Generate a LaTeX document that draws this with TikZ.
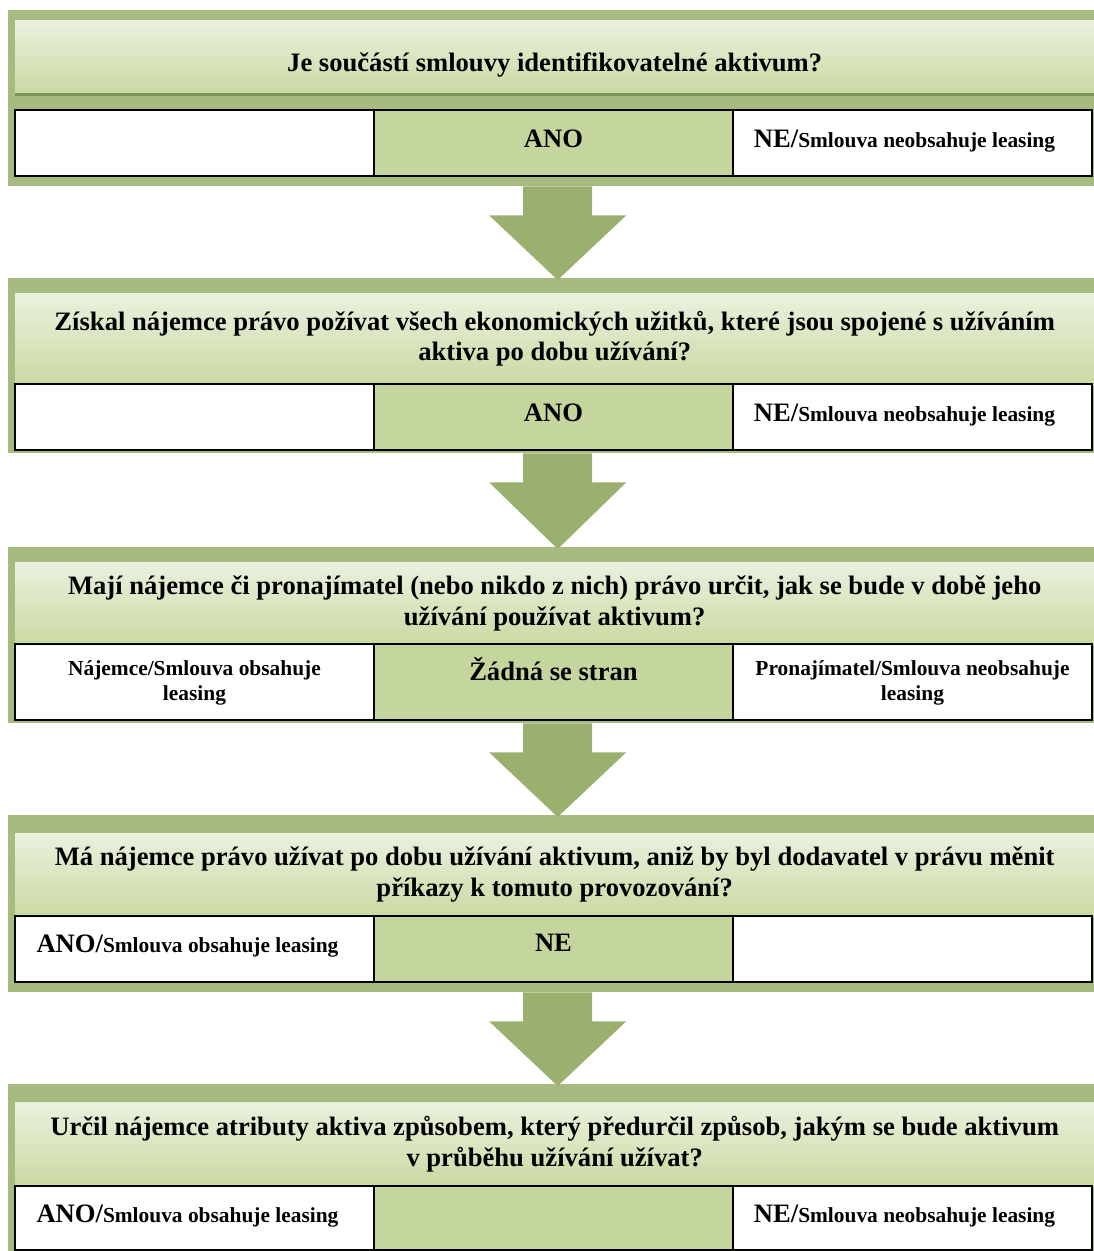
\documentclass[tikz,border=0pt]{standalone}
\usepackage{fontspec}
\setmainfont{Liberation Serif}
\usetikzlibrary{positioning,calc}
\definecolor{bandgreen}{RGB}{167,186,128}
\definecolor{arrowgreen}{RGB}{155,176,111}
\definecolor{midgreen}{RGB}{196,214,158}
\definecolor{panelhi}{RGB}{234,241,222}
\definecolor{panello}{RGB}{202,218,163}
\definecolor{panelline}{RGB}{126,148,96}

\begin{document}
\begin{tikzpicture}[x=1pt,y=-1pt,
  band/.style={fill=bandgreen,minimum width=1086pt,anchor=north west,inner sep=0pt},
  panel/.style={top color=panelhi,bottom color=panello,minimum width=1079pt,anchor=north west,
    inner sep=0pt,align=center,font=\bfseries\fontsize{26.6}{30.5}\selectfont},
  cell/.style={draw=black,line width=1.6pt,fill=white,minimum width=359pt,minimum height=66pt,
    inner sep=0pt,outer sep=0pt},
  midcell/.style={cell,fill=midgreen},
  big/.style={font=\bfseries\fontsize{26.6}{30.5}\selectfont,anchor=base},
  small/.style={font=\bfseries\fontsize{21.4}{25}\selectfont,align=center}]
\useasboundingbox (0,0) rectangle (1094,1251);

% block 1
\node[band,minimum height=176pt] (b1) at (8,10) {};
\node[panel,minimum height=73pt] (q1) at (15,20) {\raisebox{-15pt}[0pt][0pt]{Je součástí smlouvy identifikovatelné aktivum?}};
\draw[panelline,line width=3pt] ([yshift=-1.5pt]q1.south west) -- ([yshift=-1.5pt]q1.south east);
\node[cell,anchor=north west] (c1a) at (15,110) {};
\node[midcell,right=0pt of c1a] (c1b) {};
\node[cell,right=0pt of c1b] (c1c) {};
\node[big] (t1b) at ([yshift=-37pt]c1b.north) {ANO};
\node[big] (t1c) at ([xshift=-8pt,yshift=-37pt]c1c.north) {NE/{\fontsize{21.4}{25}\selectfont Smlouva neobsahuje leasing}};

% block 2
\node[band,minimum height=175pt] (b2) at (8,278) {};
\node[panel,minimum height=91pt] (q2) at (15,293) {Získal nájemce právo požívat všech ekonomických užitků, které jsou spojené s užíváním\\aktiva po dobu užívání?};
\node[cell,anchor=north west] (c2a) at (15,384) {};
\node[midcell,right=0pt of c2a] (c2b) {};
\node[cell,right=0pt of c2b] (c2c) {};
\node[big] (t2b) at ([yshift=-37pt]c2b.north) {ANO};
\node[big] (t2c) at ([xshift=-8pt,yshift=-37pt]c2c.north) {NE/{\fontsize{21.4}{25}\selectfont Smlouva neobsahuje leasing}};

% block 3
\node[band,minimum height=176pt] (b3) at (8,547) {};
\node[panel,minimum height=82pt] (q3) at (15,562) {Mají nájemce či pronajímatel (nebo nikdo z nich) právo určit, jak se bude v době jeho\\užívání používat aktivum?};
\node[cell,minimum height=76pt,anchor=north west] (c3a) at (15,644) {};
\node[midcell,minimum height=76pt,right=0pt of c3a] (c3b) {};
\node[cell,minimum height=76pt,right=0pt of c3b] (c3c) {};
\node[small] (t3a) at ([yshift=-39pt]c3a.north) {Nájemce/Smlouva obsahuje\\leasing};
\node[big] (t3b) at ([yshift=-36pt]c3b.north) {Žádná se stran};
\node[small] (t3c) at ([yshift=-39pt]c3c.north) {Pronajímatel/Smlouva neobsahuje\\leasing};

% block 4
\node[band,minimum height=177pt] (b4) at (8,815) {};
\node[panel,minimum height=83pt] (q4) at (15,833) {Má nájemce právo užívat po dobu užívání aktivum, aniž by byl dodavatel v právu měnit\\příkazy k tomuto provozování?};
\node[cell,anchor=north west] (c4a) at (15,916) {};
\node[midcell,right=0pt of c4a] (c4b) {};
\node[cell,right=0pt of c4b] (c4c) {};
\node[big] (t4a) at ([xshift=-7pt,yshift=-36pt]c4a.north) {ANO/{\fontsize{21.4}{25}\selectfont Smlouva obsahuje leasing}};
\node[big] (t4b) at ([yshift=-35pt]c4b.north) {NE};

% block 5
\node[band,minimum height=167pt] (b5) at (8,1084) {};
\node[panel,minimum height=84pt] (q5) at (15,1102) {Určil nájemce atributy aktiva způsobem, který předurčil způsob, jakým se bude aktivum\\v průběhu užívání užívat?};
\node[cell,minimum height=64pt,anchor=north west] (c5a) at (15,1186) {};
\node[midcell,minimum height=64pt,right=0pt of c5a] (c5b) {};
\node[cell,minimum height=64pt,right=0pt of c5b] (c5c) {};
\node[big] (t5a) at ([xshift=-7pt,yshift=-36pt]c5a.north) {ANO/{\fontsize{21.4}{25}\selectfont Smlouva obsahuje leasing}};
\node[big] (t5c) at ([xshift=-8pt,yshift=-36pt]c5c.north) {NE/{\fontsize{21.4}{25}\selectfont Smlouva neobsahuje leasing}};

% block arrows
\foreach \i/\j in {1/2,2/3,3/4,4/5}{
  \coordinate (s) at ($(b\i.south)+(6.5,0)$);
  \coordinate (t) at ($(b\j.north)+(6.5,2)$);
  \fill[arrowgreen] ($(s)+(-34.5,0)$) -- ($(s)+(-34.5,29)$) -- ($(s)+(-68.5,29)$) -- (t)
    -- ($(s)+(68.5,29)$) -- ($(s)+(34.5,29)$) -- ($(s)+(34.5,0)$) -- cycle;
}
\end{tikzpicture}
\end{document}
